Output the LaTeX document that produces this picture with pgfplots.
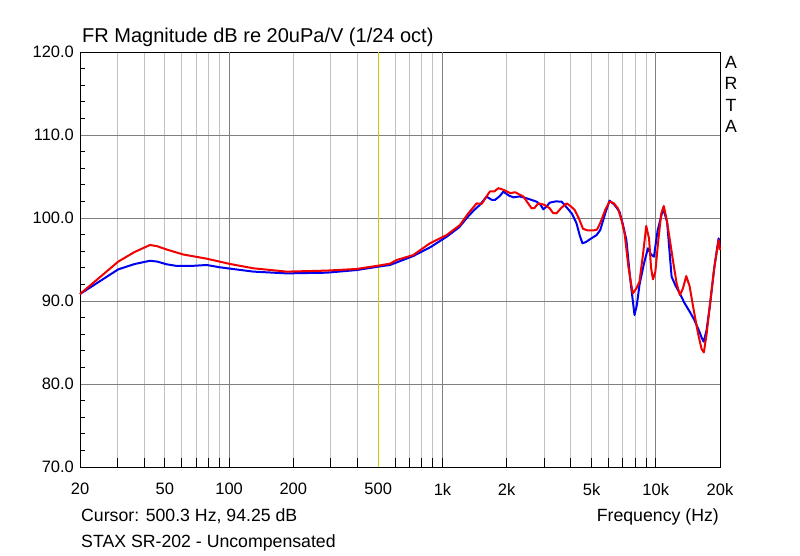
\documentclass[border=0pt]{standalone}
\usepackage{pgfplots}
\pgfplotsset{compat=1.18}
\usepackage{fontspec}
\setmainfont{Liberation Sans}
\definecolor{gridlight}{RGB}{192,192,192}
\definecolor{griddark}{RGB}{128,128,128}
\definecolor{cursorc}{RGB}{204,204,0}
\definecolor{redc}{RGB}{240,0,0}
\definecolor{bluec}{RGB}{0,0,240}
\begin{document}
\fontsize{17.7}{20}\selectfont
\begin{tikzpicture}
\useasboundingbox (0pt,0pt) rectangle (800pt,555pt);
\begin{axis}[
  at={(80pt,88pt)}, anchor=south west,
  scale only axis, width=640pt, height=415pt,
  xmode=log, log basis x=10,
  xmin=20, xmax=20000, ymin=70, ymax=120,
  axis line style={black, line width=1pt},
  /pgf/number format/assume math mode=true,
  xtick={20,30,40,50,60,70,80,90,100,200,300,400,500,600,700,800,900,1000,2000,3000,4000,5000,6000,7000,8000,9000,10000,20000},
  xticklabels={20,{},{},50,{},{},{},{},100,200,{},{},500,{},{},{},{},1k,2k,{},{},5k,{},{},{},{},10k,20k},
  xmajorgrids, 
  major grid style={gridlight, line width=1pt},
  extra x ticks={100,1000,10000},
  extra x tick labels={},
  extra x tick style={grid=major, major grid style={griddark, line width=1pt}},
  ytick={70,80,90,100,110,120},
  ymajorgrids,
  y grid style={griddark, line width=1pt},
  yticklabel style={/pgf/number format/.cd, fixed, fixed zerofill, precision=1},
  xtick align=inside, ytick align=inside,
  xtick pos=left, ytick pos=left,
  major tick length=9pt,
  x tick style={black, line width=1pt},
  y tick style={draw=none},
  xticklabel style={yshift=-10pt},
  every tick label/.append style={font=\fontsize{16.5}{19}\selectfont, text=black},
  clip=false,
]
\draw[cursorc, line width=1pt] (axis cs:500,70) -- (axis cs:500,120);
% Blue channel
\addplot[bluec, line width=2pt, line join=round] coordinates {
(20,90.84) (25,92.45) (30.2,93.81) (36,94.45) (42.6,94.85) (46,94.75) (51,94.42) (57,94.22)
(66,94.22) (78.5,94.34) (90.6,94.06) (101,93.9) (130,93.54) (186,93.33) (286,93.41)
(396,93.73) (500,94.14) (568,94.34) (730,95.42) (880,96.5) (1047,97.75) (1200,98.9)
(1295,99.96) (1400,100.9) (1496,101.57) (1610,102.57) (1700,102.2) (1761,102.17) (1850,102.6)
(1930,103.17) (2050,102.7) (2150,102.49) (2300,102.6) (2485,102.37) (2760,101.97) (2880,101.6)
(2970,101.05) (3080,101.4) (3181,101.85) (3400,102.0) (3620,101.97) (3890,101.05) (4050,100.5)
(4250,99.36) (4400,97.9) (4530,96.95) (4700,97.1) (4910,97.43) (5280,97.95) (5490,98.55)
(5800,100.6) (6070,102.09) (6400,101.6) (6760,100.76) (7000,99.3) (7280,97.35) (7600,92.5)
(7950,88.31) (8150,89.5) (8384,91.93) (8800,94.5) (9180,96.35) (9500,95.6) (9800,95.34)
(10200,98.5) (10830,101.17) (11300,99.5) (11860,92.93) (12400,91.8) (12970,90.9) (13600,89.8)
(14430,88.7) (15100,87.8) (15900,86.5) (16400,85.6) (16770,85.1) (17300,86.5) (17900,89.3)
(18800,94.0) (19700,97.55) (20000,96.75)
};
% Red channel
\addplot[redc, line width=2pt, line join=round] coordinates {
(20,90.84) (25,92.95) (30.2,94.74) (36,95.9) (42.6,96.75) (46,96.6) (51,96.2) (61,95.6)
(78.5,95.1) (101,94.46) (130,93.94) (186,93.54) (286,93.66) (396,93.86) (500,94.26)
(568,94.5) (610,94.94) (730,95.54) (873,96.95) (1047,97.95) (1208,99.16) (1322,100.56)
(1446,101.76) (1527,101.7) (1600,102.5) (1669,103.2) (1750,103.2) (1830,103.6) (1930,103.4)
(2074,103.0) (2190,103.1) (2393,102.6) (2500,101.9) (2615,101.17) (2700,101.2) (2812,101.77)
(3000,101.6) (3181,101.17) (3300,100.6) (3421,100.56) (3600,101.2) (3823,101.77) (4000,101.4)
(4170,100.96) (4350,100.0) (4560,98.7) (4800,98.5) (5100,98.5) (5300,98.6) (5490,99.4)
(5800,101.0) (6070,101.97) (6350,101.8) (6640,101.17) (6900,99.8) (7145,98.1) (7450,94.0)
(7800,90.9) (8100,91.5) (8384,92.33) (8700,95.5) (9020,99.04) (9300,97.5) (9500,94.0)
(9700,92.61) (9950,93.5) (10240,96.95) (10600,100.5) (10900,101.45) (11250,99.8) (11640,97.35)
(12100,94.5) (12520,92.13) (12970,90.72) (13400,91.5) (13890,93.0) (14400,91.8) (15060,88.9)
(15800,86.0) (16400,84.2) (16800,83.8) (17300,86.0) (17900,89.32) (18800,94.0) (19700,97.35)
(20000,96.14)
};
\end{axis}
\foreach \v in {72,74,76,78,82,84,86,88,92,94,96,98,102,104,106,108,112,114,116,118}{
  \draw[black, line width=1pt] (80pt,{88pt+(\v-70)*8.3pt}) -- ++(5pt,0pt);
}
\node[anchor=base west, inner sep=0pt, font=\fontsize{20}{23}\selectfont] at (82pt,512pt) {FR Magnitude dB re 20uPa/V (1/24 oct)};
\node[anchor=base west, inner sep=0pt] at (81pt,34pt) {Cursor: 500.3 Hz, 94.25 dB};
\node[anchor=base west, inner sep=0pt] at (81pt,8pt) {STAX SR-202 - Uncompensated};
\node[anchor=base east, inner sep=0pt] at (719pt,34pt) {Frequency (Hz)};
\node[anchor=base, inner sep=0pt] at (731pt,486.5pt) {A};
\node[anchor=base, inner sep=0pt] at (731pt,465pt) {R};
\node[anchor=base, inner sep=0pt] at (731pt,443.5pt) {T};
\node[anchor=base, inner sep=0pt] at (731pt,422pt) {A};
\end{tikzpicture}
\end{document}
